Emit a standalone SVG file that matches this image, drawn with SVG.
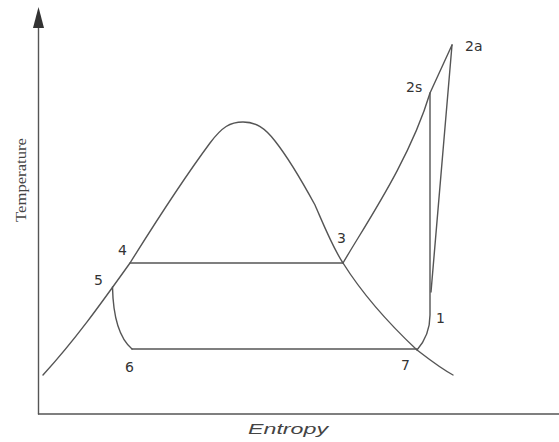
<svg xmlns="http://www.w3.org/2000/svg" width="559" height="442" viewBox="0 0 559 442">
<style>
.ln{fill:none;stroke:#555;stroke-width:1.4;stroke-linejoin:round;stroke-linecap:round}
.lbl{font-family:"DejaVu Sans",sans-serif;font-size:14px;fill:#333}
</style>
<rect width="559" height="442" fill="#fff"/>
<g id="axes">
<line class="ln" x1="38.5" y1="26" x2="38.5" y2="414"/>
<line class="ln" x1="38.5" y1="414" x2="559" y2="414"/>
<polygon points="38.5,7 33,28 44,28" fill="#333"/>
<text x="0" y="0" transform="translate(26,180) rotate(-90)" text-anchor="middle" font-family="'Liberation Serif',serif" font-size="15" fill="#444" textLength="84" lengthAdjust="spacingAndGlyphs">Temperature</text>
<text x="248" y="434" font-family="'Liberation Sans',Arial,sans-serif" font-style="italic" font-size="15" fill="#444" textLength="80" lengthAdjust="spacingAndGlyphs">Entropy</text>
</g>
<g id="connectors">
<path id="dome" class="ln" d="M43,375 C75,340 100,305 130,263 C160,215 190,170 210,143 C222,127 230,122 243,122 C256,122 265,128 275,141 C290,160 303,183 315,205 C325,228 333,248 343,263 C360,290 385,320 417,350 C430,360 440,368 453,375"/>
<path id="superheat" class="ln" d="M343,263 C365,225 410,160 430,93 L452,45"/>
<path id="isentropic" class="ln" d="M430,93 L430,315 Q430,335 417,350"/>
<path id="actual" class="ln" d="M452,45 L431,292"/>
<path id="cond" class="ln" d="M130,263 L343,263"/>
<path id="evap" class="ln" d="M132,349 L417,349"/>
<path id="subcool" class="ln" d="M112.5,287 C113,312 118,337 132,349"/>
</g>
<g id="n2a"><text class="lbl" x="465" y="51">2a</text></g>
<g id="n2s"><text class="lbl" x="406" y="92">2s</text></g>
<g id="n1"><text class="lbl" x="436" y="323">1</text></g>
<g id="n7"><text class="lbl" x="401" y="370">7</text></g>
<g id="n3"><text class="lbl" x="337" y="243">3</text></g>
<g id="n4"><text class="lbl" x="118" y="255">4</text></g>
<g id="n5"><text class="lbl" x="94" y="285">5</text></g>
<g id="n6"><text class="lbl" x="125" y="372">6</text></g>
</svg>
